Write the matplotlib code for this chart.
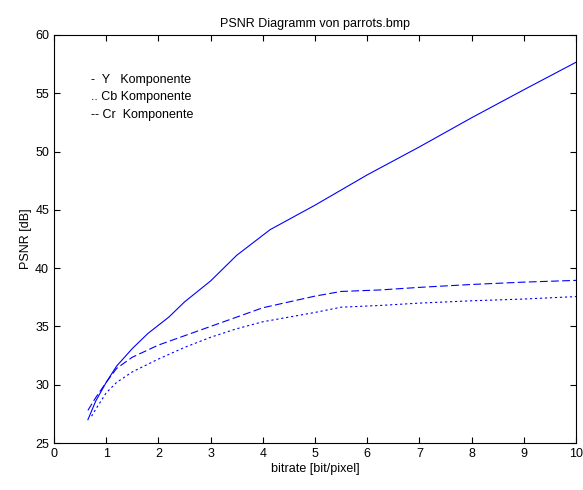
import matplotlib
matplotlib.use('Agg')
import matplotlib.pyplot as plt

plt.rcParams['font.family'] = ['Liberation Sans', 'DejaVu Sans']

# Y Komponente
y_rate = [0.65, 0.8, 1.0, 1.2, 1.5, 1.8, 2.0, 2.2, 2.5, 3.0, 3.5, 4.14, 5.0, 5.5, 6.0, 7.0, 8.0, 9.0, 10.0]
y_psnr = [27.0, 28.6, 30.2, 31.6, 33.1, 34.4, 35.1, 35.8, 37.1, 38.9, 41.1, 43.3, 45.4, 46.7, 48.0, 50.4, 52.9, 55.3, 57.66]

# Cb Komponente
cb_rate = [0.72, 0.8, 1.0, 1.2, 1.5, 2.0, 2.5, 3.0, 3.5, 4.0, 4.5, 5.0, 5.5, 6.25, 7.0, 8.0, 9.0, 10.0]
cb_psnr = [27.3, 27.9, 29.3, 30.2, 31.1, 32.2, 33.2, 34.07, 34.8, 35.4, 35.8, 36.2, 36.65, 36.8, 37.0, 37.2, 37.35, 37.56]

# Cr Komponente
cr_rate = [0.65, 0.8, 1.0, 1.2, 1.5, 2.0, 2.5, 3.0, 3.5, 4.0, 4.5, 5.0, 5.5, 6.25, 7.0, 8.0, 9.0, 10.0]
cr_psnr = [27.8, 28.9, 30.2, 31.4, 32.36, 33.4, 34.2, 35.0, 35.8, 36.6, 37.1, 37.6, 38.0, 38.13, 38.35, 38.6, 38.8, 38.95]

fig = plt.figure(figsize=(5.83, 4.90), dpi=100)
ax = fig.add_axes([0.0926, 0.0959, 0.8954, 0.8327])

blue = '#0000ff'
ax.plot(y_rate, y_psnr, color=blue, linewidth=0.8, linestyle='-')
ax.plot(cb_rate, cb_psnr, color=blue, linewidth=0.8, linestyle=(0, (2, 2.5)))
ax.plot(cr_rate, cr_psnr, color=blue, linewidth=0.8, linestyle=(0, (7, 3)))

ax.set_xlim(0, 10)
ax.set_ylim(25, 60)
ax.set_xticks(range(0, 11))
ax.set_yticks(range(25, 61, 5))
ax.tick_params(direction='in', top=True, right=True, labelsize=9, length=4)
for s in ax.spines.values():
    s.set_linewidth(0.8)

ax.set_title('PSNR Diagramm von parrots.bmp', fontsize=9, pad=6)
ax.set_xlabel('bitrate [bit/pixel]', fontsize=9, labelpad=2)
ax.set_ylabel('PSNR [dB]', fontsize=9, labelpad=2)

ax.text(0.07, 0.89, '-  Y   Komponente', transform=ax.transAxes, fontsize=9, va='center')
ax.text(0.07, 0.847, '.. Cb Komponente', transform=ax.transAxes, fontsize=9, va='center')
ax.text(0.07, 0.804, '-- Cr  Komponente', transform=ax.transAxes, fontsize=9, va='center')

fig.savefig('out.png', dpi=100)
